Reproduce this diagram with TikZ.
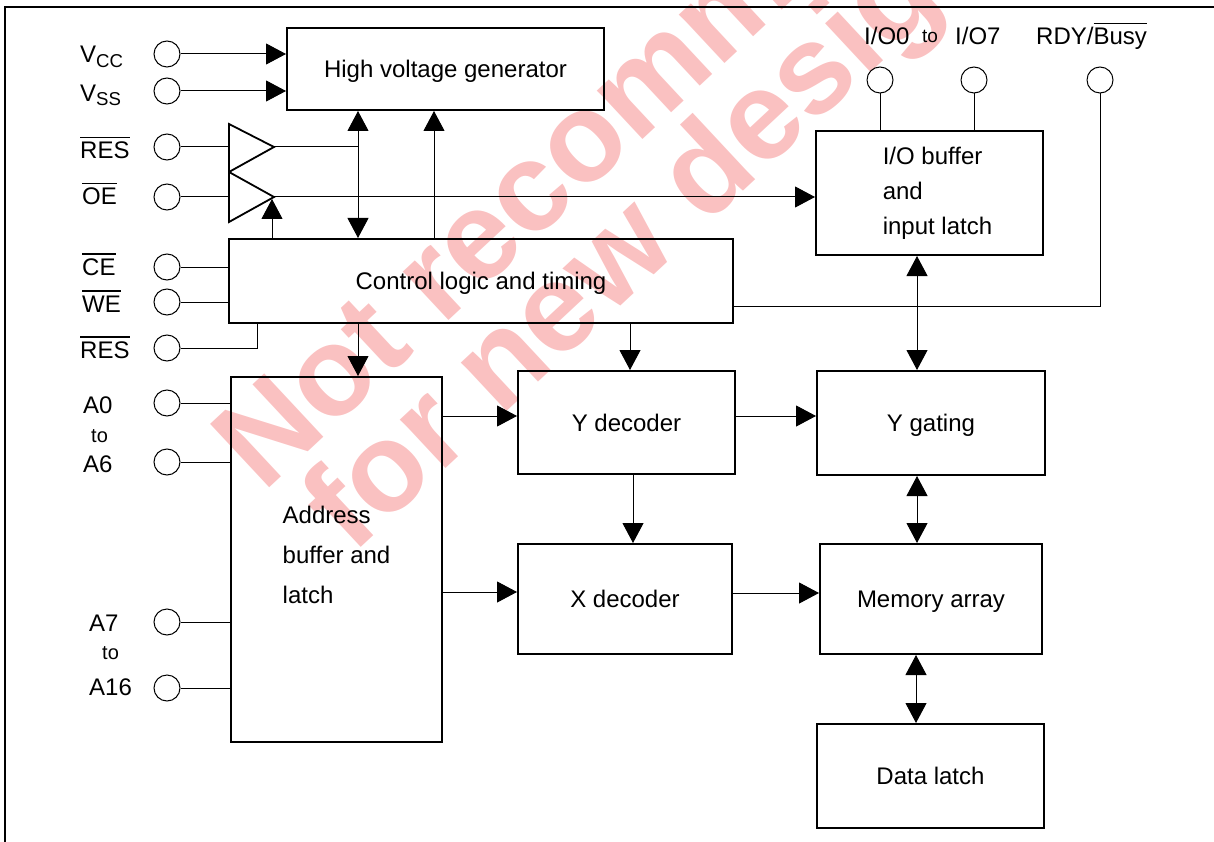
\documentclass[tikz,border=0pt]{standalone}
\usepackage{fontspec}
\setmainfont{Liberation Sans}
\usetikzlibrary{arrows.meta}
\definecolor{wm}{RGB}{250,193,193}
\newcommand\myov[1]{{\setbox0\hbox{#1}\rlap{\raisebox{20.5pt}{\rule{\wd0}{1.3pt}}}\box0}}
\begin{document}
\begin{tikzpicture}[x=1pt,y=-1pt,
  box/.style={draw, line width=2pt, inner sep=0pt, font=\fontsize{24}{28}\selectfont},
  one/.style={text height=17pt, text depth=0pt},
  conn/.style={line width=1pt},
  arr/.style={conn, -{Triangle[length=20pt,width=21pt]}},
  darr/.style={conn, {Triangle[length=20pt,width=21pt]}-{Triangle[length=20pt,width=21pt]}},
  pin/.style={circle, draw, line width=1pt, minimum size=26pt, inner sep=0pt},
  lbl/.style={font=\fontsize{24}{28}\selectfont, inner sep=0pt, anchor=base west},
  small/.style={font=\fontsize{20}{24}\selectfont, inner sep=0pt, anchor=base west},
  tri/.style={line width=1.8pt, line join=miter},
  wmark/.style={rotate=43, anchor=base west, inner sep=0pt, text=wm, font=\fontsize{126}{126}\selectfont\bfseries}
]
\useasboundingbox (0,0) rectangle (1214,842);
% watermark
\begin{scope}
\clip (0,0) rectangle (1214,842);
\node[wmark] (wm1) at (263,494) {Not recommended};
\node[wmark] (wm2) at (352,556) {for new design};
\end{scope}
% frame
\draw[line width=2pt] (5,842) -- (5,7) -- (1214,7);
% boxes
\node[box, one, minimum width=317pt, minimum height=82pt] (hv) at (445.5,69) {High voltage generator};
\node[box, one, minimum width=504pt, minimum height=84pt] (ctl) at (481,281) {Control logic and timing};
\node[box, align=left, font=\fontsize{24}{35}\selectfont, minimum width=227pt, minimum height=124pt] (io) at (929.5,193)
  {\hspace*{16pt}I/O buffer\\\hspace*{16pt}and\\\hspace*{16pt}input latch};
\node[box, align=left, font=\fontsize{24}{40}\selectfont, minimum width=211pt, minimum height=365pt] (addr) at (336.5,559.5)
  {Address\\buffer and\\latch\rule[-10pt]{0pt}{10pt}};
\node[box, one, minimum width=217pt, minimum height=103pt] (yd) at (626.5,422.5) {Y decoder};
\node[box, one, minimum width=228pt, minimum height=104pt] (yg) at (931,423) {Y gating};
\node[box, one, minimum width=214pt, minimum height=110pt] (xd) at (625,599) {X decoder};
\node[box, one, minimum width=222pt, minimum height=110pt] (mem) at (931,599) {Memory array};
\node[box, one, minimum width=227pt, minimum height=104pt] (dl) at (930.5,776) {Data latch};
% pins
\node[pin] (pvcc) at (167,54) {};
\node[pin] (pvss) at (167,91) {};
\node[pin] (pres) at (167,147) {};
\node[pin] (poe) at (167,197) {};
\node[pin] (pce) at (167,267) {};
\node[pin] (pwe) at (167,302) {};
\node[pin] (pres2) at (167,348) {};
\node[pin] (pa0) at (167,403) {};
\node[pin] (pa6) at (167,462) {};
\node[pin] (pa7) at (167,622) {};
\node[pin] (pa16) at (167,688) {};
\node[pin] (pio0) at (880,80) {};
\node[pin] (pio7) at (974,80) {};
\node[pin] (prdy) at (1100,80) {};
% labels
\node[lbl] (lvcc) at (80,63) {V\raisebox{-5pt}{\fontsize{18.6}{20}\selectfont CC}};
\node[lbl] (lvss) at (80,102) {V\raisebox{-4pt}{\fontsize{18.6}{20}\selectfont SS}};
\node[lbl] (lres) at (80,159) {\myov{RES}};
\node[lbl] (loe) at (82,205) {\myov{OE}};
\node[lbl] (lce) at (82,275) {\myov{CE}};
\node[lbl] (lwe) at (82,312) {\myov{WE}};
\node[lbl] (lres2) at (80,358) {\myov{RES}};
\node[lbl] (la0) at (83,413) {A0};
\node[small] (lto1) at (91,442) {to};
\node[lbl] (la6) at (83,472) {A6};
\node[lbl] (la7) at (89,631) {A7};
\node[small] (lto2) at (102,659) {to};
\node[lbl] (la16) at (89,695) {A16};
\node[lbl] (lio0) at (864,45) {I/O0};
\node[small, font=\fontsize{19}{22}\selectfont] (lto3) at (922,43) {to};
\node[lbl] (lio7) at (955,45) {I/O7};
\node[lbl] (lrdy) at (1036,45) {RDY/\myov{Busy}};
% buffers
\coordinate (t1a) at (229,124);
\coordinate (t1b) at (229,172);
\coordinate (t1c) at (274,147);
\coordinate (t2c) at (274,197);
\coordinate (t2b) at (229,222);
\draw[tri] (t1a) -- (t1c) -- (t1b) -- cycle;
\draw[tri] (t1b) -- (t2c) -- (t2b) -- cycle;
% helper columns/rows
\coordinate (j1) at (358,147);
\coordinate (k) at (434,200);
\coordinate (en) at (272,199);
\coordinate (r2) at (257,323);
\coordinate (m1) at (630,0);
\coordinate (m2) at (633,0);
\coordinate (m3) at (917,0);
\coordinate (m4) at (916,0);
\coordinate (ry) at (0,416);
\coordinate (rx) at (0,592);
\coordinate (rx2) at (0,593);
\coordinate (rb) at (0,306);
% connectors
\draw[arr] (pvcc) -- (pvcc -| hv.west);
\draw[arr] (pvss) -- (pvss -| hv.west);
\draw[conn] (pres) -- (pres -| t1a);
\draw[conn] (poe) -- (poe -| t1a);
\draw[conn] (t1c) -- (j1);
\draw[darr] (j1 |- hv.south) -- (j1 |- ctl.north);
\draw[arr] (k |- ctl.north) -- (k |- hv.south);
\draw[arr] (t2c) -- (t2c -| io.west);
\draw[arr] (en |- ctl.north) -- (en);
\draw[conn] (pce) -- (pce -| ctl.west);
\draw[conn] (pwe) -- (pwe -| ctl.west);
\draw[conn] (pres2) -| (r2);
\draw[arr] (j1 |- ctl.south) -- (j1 |- addr.north);
\draw[arr] (m1 |- ctl.south) -- (m1 |- yd.north);
\draw[conn] (pa0) -- (pa0 -| addr.west);
\draw[conn] (pa6) -- (pa6 -| addr.west);
\draw[conn] (pa7) -- (pa7 -| addr.west);
\draw[conn] (pa16) -- (pa16 -| addr.west);
\draw[arr] (addr.east |- ry) -- (yd.west |- ry);
\draw[arr] (addr.east |- rx) -- (xd.west |- rx);
\draw[arr] (yd.east |- ry) -- (yg.west |- ry);
\draw[arr] (m2 |- yd.south) -- (m2 |- xd.north);
\draw[arr] (xd.east |- rx2) -- (mem.west |- rx2);
\draw[darr] (m3 |- io.south) -- (m3 |- yg.north);
\draw[darr] (m3 |- yg.south) -- (m3 |- mem.north);
\draw[darr] (m4 |- mem.south) -- (m4 |- dl.north);
\draw[conn] (ctl.east |- rb) -| (prdy);
\draw[conn] (pio0) -- (pio0 |- io.north);
\draw[conn] (pio7) -- (pio7 |- io.north);
\end{tikzpicture}
\end{document}
